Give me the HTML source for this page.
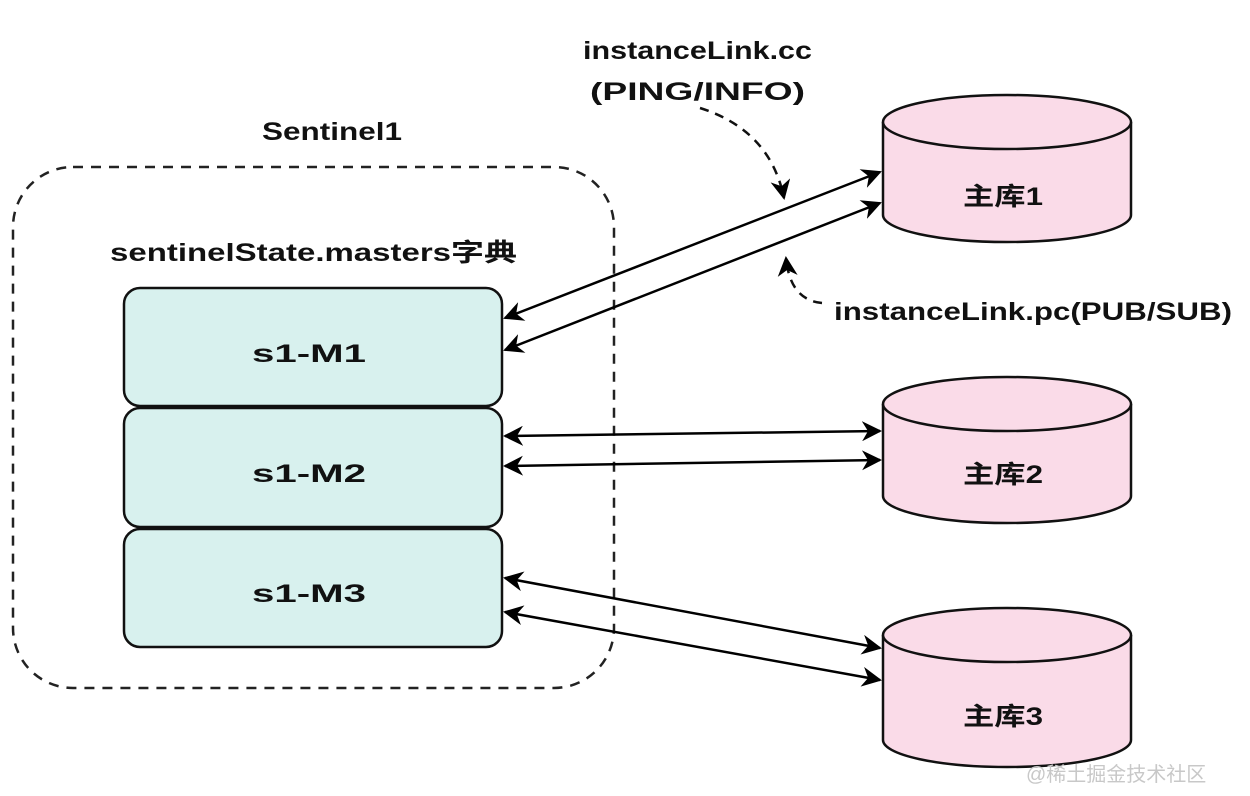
<!DOCTYPE html>
<html><head><meta charset="utf-8"><style>
html,body{margin:0;padding:0;background:#fff;}
svg{display:block}
text{font-family:"Liberation Sans","Noto Sans CJK SC",sans-serif;fill:#111;font-weight:bold}
</style></head><body>
<svg width="1250" height="796" viewBox="0 0 1250 796" xmlns="http://www.w3.org/2000/svg">
<defs>
<marker id="b" viewBox="0 0 10 10" refX="9" refY="5" markerWidth="20" markerHeight="20" orient="auto-start-reverse" markerUnits="userSpaceOnUse">
<path d="M0,0 L10,5 L0,10 L3,5 Z" fill="#000"/></marker>
</defs>
<text x="262" y="140" font-size="25" textLength="140" lengthAdjust="spacingAndGlyphs">Sentinel1</text>
<rect x="13" y="167" width="601" height="521" rx="60" fill="none" stroke="#222" stroke-width="2.5" stroke-dasharray="10,8"/>
<text x="110" y="261" font-size="25" textLength="407" lengthAdjust="spacingAndGlyphs">sentinelState.masters字典</text>
<rect x="124" y="288" width="378" height="118" rx="16" fill="#d8f1ee" stroke="#111" stroke-width="2.5"/>
<rect x="124" y="408" width="378" height="119" rx="16" fill="#d8f1ee" stroke="#111" stroke-width="2.5"/>
<rect x="124" y="529" width="378" height="118" rx="16" fill="#d8f1ee" stroke="#111" stroke-width="2.5"/>
<text x="252" y="362" font-size="25" textLength="114" lengthAdjust="spacingAndGlyphs">s1-M1</text>
<text x="252" y="482" font-size="25" textLength="114" lengthAdjust="spacingAndGlyphs">s1-M2</text>
<text x="252" y="602" font-size="25" textLength="114" lengthAdjust="spacingAndGlyphs">s1-M3</text>
<g fill="#fadbe8" stroke="#111" stroke-width="2.5">
<path d="M883,122 L883,215 A124,27 0 0 0 1131,215 L1131,122"/>
<ellipse cx="1007" cy="122" rx="124" ry="27"/>
<path d="M883,404 L883,496 A124,27 0 0 0 1131,496 L1131,404"/>
<ellipse cx="1007" cy="404" rx="124" ry="27"/>
<path d="M883,635 L883,740 A124,27 0 0 0 1131,740 L1131,635"/>
<ellipse cx="1007" cy="635" rx="124" ry="27"/>
</g>
<text x="963" y="205" font-size="25" textLength="80" lengthAdjust="spacingAndGlyphs">主库1</text>
<text x="963" y="483" font-size="25" textLength="80" lengthAdjust="spacingAndGlyphs">主库2</text>
<text x="963" y="725" font-size="25" textLength="80" lengthAdjust="spacingAndGlyphs">主库3</text>
<g stroke="#000" stroke-width="2.5" fill="none" marker-start="url(#b)" marker-end="url(#b)">
<line x1="505" y1="318" x2="880" y2="172"/>
<line x1="505" y1="350" x2="880" y2="203"/>
<line x1="505" y1="436" x2="880" y2="431"/>
<line x1="505" y1="466" x2="880" y2="460"/>
<line x1="505" y1="578" x2="880" y2="648"/>
<line x1="505" y1="612" x2="880" y2="680"/>
</g>
<g stroke="#111" stroke-width="2.5" fill="none" stroke-dasharray="9,7">
<path d="M700,108 Q770,130 784,198" marker-end="url(#b)"/>
<path d="M822,303 Q790,300 786,258" marker-end="url(#b)"/>
</g>
<text x="583" y="59" font-size="25" textLength="229" lengthAdjust="spacingAndGlyphs">instanceLink.cc</text>
<text x="590" y="100" font-size="25" textLength="215" lengthAdjust="spacingAndGlyphs">(PING/INFO)</text>
<text x="834" y="320" font-size="25" textLength="398" lengthAdjust="spacingAndGlyphs">instanceLink.pc(PUB/SUB)</text>
<text x="1026" y="781" font-size="20" style="fill:#c8c8c8;font-weight:normal">@稀土掘金技术社区</text>
</svg>
</body></html>
